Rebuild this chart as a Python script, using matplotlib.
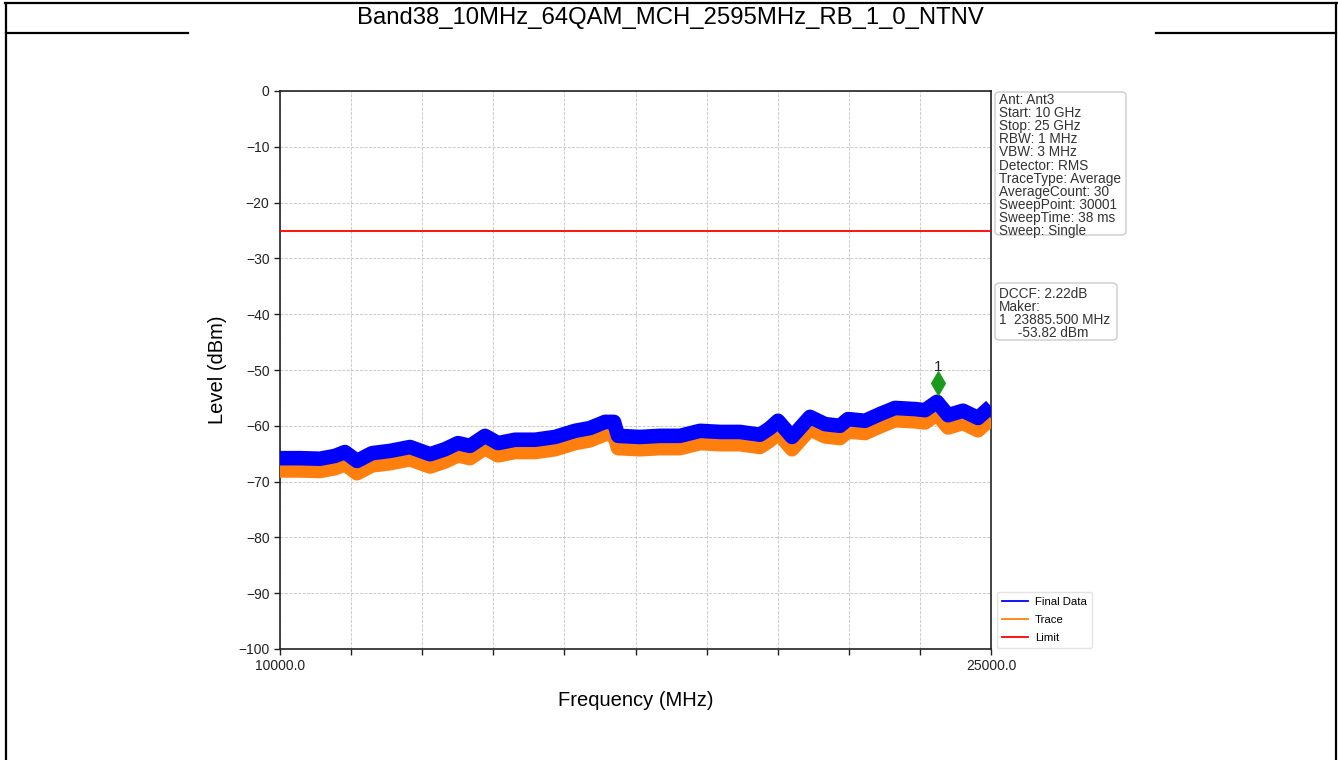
import matplotlib
matplotlib.use("Agg")
import matplotlib.pyplot as plt
from matplotlib.lines import Line2D
from matplotlib.patches import FancyBboxPatch

plt.rcParams['font.family'] = ['Liberation Sans', 'DejaVu Sans']

# ---------------- data ----------------
freq_mhz = [10000, 10422, 10844, 11160, 11371, 11624, 11941, 12321, 12743, 13165,
            13481, 13755, 14008, 14325, 14599, 14958, 15380, 15802, 16224, 16540,
            16857, 17046, 17131, 17595, 18017, 18439, 18861, 19283, 19705, 20127,
            20338, 20506, 20802, 21181, 21498, 21814, 21983, 22342, 22658, 22975,
            23397, 23608, 23861, 24093, 24409, 24726, 25000]
final_data = [-65.8, -65.8, -65.9, -65.4, -64.7, -66.3, -64.9, -64.5, -63.8, -65.1,
              -64.2, -63.1, -63.6, -61.8, -63.1, -62.5, -62.5, -62.0, -60.9, -60.4,
              -59.3, -59.3, -61.8, -62.0, -61.8, -61.8, -60.9, -61.1, -61.1, -61.6,
              -60.4, -59.1, -62.0, -58.4, -59.7, -60.0, -58.8, -59.1, -57.9, -56.8,
              -57.0, -57.2, -55.7, -58.1, -57.3, -58.6, -56.5]
trace = [-68.0, -68.0, -68.1, -67.6, -66.9, -68.5, -67.1, -66.7, -66.0, -67.3,
         -66.4, -65.3, -65.8, -64.0, -65.3, -64.7, -64.7, -64.2, -63.1, -62.6,
         -61.5, -61.5, -64.0, -64.2, -64.0, -64.0, -63.1, -63.3, -63.3, -63.8,
         -62.6, -61.3, -64.2, -60.6, -61.9, -62.2, -61.0, -61.3, -60.1, -59.0,
         -59.2, -59.4, -57.9, -60.3, -59.5, -60.8, -58.7]
limit_freq = [10000, 25000]
limit_level = [-25, -25]
marker_freq = 23885.5
marker_level = -52.4
x_ticks = [10000, 11500, 13000, 14500, 16000, 17500, 19000, 20500, 22000, 23500, 25000]
x_tick_labels = ['10000.0', '', '', '', '', '', '', '', '', '', '25000.0']
y_ticks = [0, -10, -20, -30, -40, -50, -60, -70, -80, -90, -100]

title = "Band38_10MHz_64QAM_MCH_2595MHz_RB_1_0_NTNV"
info_text = ("Ant: Ant3\nStart: 10 GHz\nStop: 25 GHz\nRBW: 1 MHz\nVBW: 3 MHz\n"
             "Detector: RMS\nTraceType: Average\nAverageCount: 30\nSweepPoint: 30001\n"
             "SweepTime: 38 ms\nSweep: Single")
marker_text = "DCCF: 2.22dB\nMaker:\n1  23885.500 MHz\n     -53.82 dBm"

# ---------------- figure ----------------
W, H = 1338, 760
fig = plt.figure(figsize=(W / 100, H / 100), dpi=100)

def fx(px):
    return px / W

def fy(py):
    return 1 - py / H

# page/table borders
lw_b = 1.6
for (x0, y0, x1, y1) in [(5, 3, 1337, 3), (6, 3, 6, 760), (1336, 3, 1336, 760),
                         (6, 33, 188, 33), (1156, 33, 1336, 33)]:
    fig.add_artist(Line2D([fx(x0), fx(x1)], [fy(y0), fy(y1)], color='black',
                          linewidth=lw_b, transform=fig.transFigure))

fig.text(fx(670), fy(18), title, ha='center', va='center', fontsize=17.2)

ax = fig.add_axes([fx(280), fy(649), fx(991) - fx(280), fy(91) - fy(649)])

ax.plot(freq_mhz, trace, color='#ff7f0e', linewidth=10.5, solid_joinstyle='round',
        solid_capstyle='butt', zorder=3)
ax.plot(freq_mhz, final_data, color='#0000ff', linewidth=10.5, solid_joinstyle='round',
        solid_capstyle='butt', zorder=4)
ax.plot(limit_freq, limit_level, color='#ff0000', linewidth=1.3, zorder=5)
ax.plot([marker_freq], [marker_level], marker='d', color='#1a9a1a', markersize=12,
        markeredgewidth=0.8, linestyle='none', zorder=6)
ax.text(marker_freq, marker_level + 1.6, '1', ha='center', va='bottom', fontsize=11,
        color='#222222')

ax.set_xlim(10000, 25000)
ax.set_ylim(-100, 0)
ax.set_xticks(x_ticks)
ax.set_xticklabels(x_tick_labels)
ax.set_yticks(y_ticks)
ax.tick_params(axis='both', direction='out', length=4, width=1, labelsize=10,
               colors='#222222')
ax.grid(True, linestyle='--', linewidth=0.6, color='#c4c4c4')
for s in ax.spines.values():
    s.set_linewidth(1.2)
    s.set_color('#222222')
ax.set_xlabel('Frequency (MHz)', fontsize=14.5, labelpad=13)
ax.set_ylabel('Level (dBm)', fontsize=14.5, labelpad=8)

# info boxes
def box(x0, y0, x1, y1):
    p = FancyBboxPatch((fx(x0), fy(y1)), fx(x1) - fx(x0), fy(y0) - fy(y1),
                       boxstyle='round,pad=0,rounding_size=0.004',
                       transform=fig.transFigure, facecolor='white',
                       edgecolor='#cccccc', linewidth=1.0)
    fig.add_artist(p)

box(995, 92, 1126, 235)
fig.text(fx(999), fy(93), info_text, ha='left', va='top', fontsize=9.8,
         linespacing=0.92, color='#333333')
box(995, 283, 1117, 340)
fig.text(fx(999), fy(287), marker_text, ha='left', va='top', fontsize=9.8,
         linespacing=0.92, color='#333333')

handles = [Line2D([], [], color='#0000ff', linewidth=1.3),
           Line2D([], [], color='#ff7f0e', linewidth=1.3),
           Line2D([], [], color='#ff0000', linewidth=1.3)]
fig.legend(handles, ['Final Data', 'Trace', 'Limit'], loc='lower left',
           bbox_to_anchor=(fx(997), fy(648)), bbox_transform=fig.transFigure,
           fontsize=8.2, frameon=True, edgecolor='#dddddd', fancybox=True,
           handlelength=2.3, handletextpad=0.6, labelspacing=0.7,
           borderpad=0.45, borderaxespad=0)

fig.savefig('out.png', dpi=100)
